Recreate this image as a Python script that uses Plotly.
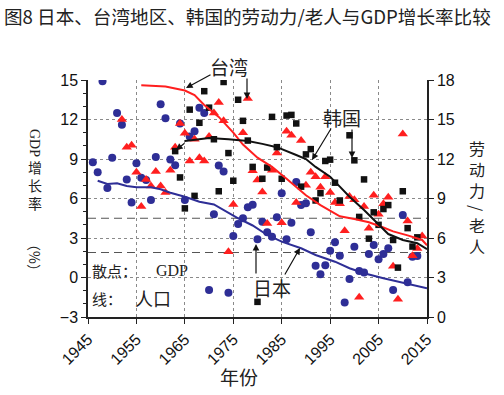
import plotly.graph_objects as go

# ---------------- data ----------------
jp_years = list(range(1946, 2014))
jp_gdp = [8.75, 8.0, 14.9, 6.8, 9.1, 12.5, 11.6, 7.45, 5.7, 8.67,
          7.58, 7.4, 5.88, 9.15, 13.15, 12.1, 8.97, 8.52, 11.7, 5.88,
          10.7, 11.1, 12.9, 12.5, -0.95, 4.8, 8.5, 8.05, -1.15, 3.15,
          4.06, 4.5, 5.33, 5.52, 2.9, 4.24, 3.43, 3.1, 4.57, 6.39,
          2.9, 4.16, 7.25, 5.5, 5.63, 3.43, 0.9, 0.24, 0.93, 2.03,
          2.67, 1.65, -1.9, -0.12, 2.34, 0.5, 0.38, 1.78, 2.47, 1.38,
          1.78, 2.22, -0.95, None, 4.74, -0.37, 1.58, 1.63]

tw_years = list(range(1952, 2015))
tw_gdp = [12.0, 9.9, 10.05, 8.0, 5.4, 7.45, 6.95, 8.05, 6.95, 6.45,
          8.15, 9.9, 11.7, 10.95, 8.85, 10.5, 9.1, 8.85, 10.7, 12.5,
          13.3, 11.9, 1.95, 5.55, None, 11.0, 13.6, 8.1, 7.4, 6.5,
          4.1, 8.15, 9.45, 4.15, 11.1, 10.8, 5.7, 10.4, 7.0, 8.0,
          7.65, 6.85, 7.65, 6.45, 5.7, 5.6, 3.55, 6.15, 5.9, -1.5,
          5.4, 3.75, 6.25, 4.8, 5.6, 6.1, 0.85, -1.65, 10.9, 4.3,
          1.65, 2.2, 3.15]

kr_years = list(range(1963, 2014))
kr_gdp = [9.6, 7.6, 5.25, 12.75, 6.2, 11.75, 14.15, 12.9, 10.5, 6.55,
          14.85, 9.45, 7.35, 13.5, 11.9, 10.4, 8.4, -1.85, 7.5, 8.35,
          12.2, 9.9, 7.5, 12.3, 12.35, 11.7, 6.9, 9.35, 9.75, 5.85,
          6.4, 8.85, 8.95, 7.2, 5.85, None, 10.8, 8.9, 4.6, 7.45,
          2.95, 4.95, 4.0, 5.2, 5.5, 2.85, 0.75, 6.55, 3.75, 2.35,
          3.05]

# labour force / elderly ratio (right axis)
jp_ratio_years = [1947, 1949, 1951, 1953, 1955, 1958, 1960, 1962, 1965, 1968,
                  1971, 1973, 1976, 1979, 1982, 1985, 1989, 1992, 1996, 1999,
                  2002, 2006, 2009, 2013, 2015]
jp_ratio = [10.35, 10.1, 10.15, 9.95, 9.85, 9.85, 9.7, 9.44, 9.13, 8.75,
            8.55, 8.12, 7.5, 6.95, 6.23, 5.72, 5.22, 4.71, 4.2, 3.7,
            3.32, 2.94, 2.68, 2.35, 2.18]

tw_ratio_years = [1956, 1961, 1965, 1967, 1969, 1972, 1975, 1977, 1980, 1983,
                  1986, 1990, 1993, 1997, 2000, 2003, 2006, 2008, 2011, 2014, 2015]
tw_ratio = [17.6, 17.5, 17.2, 16.85, 16.1, 15.2, 14.0, 13.1, 12.1, 11.4,
            10.5, 9.25, 8.5, 7.65, 7.45, 7.2, 6.8, 6.5, 6.2, 5.85, 5.45]

kr_ratio_years = [1965, 1967, 1970, 1974, 1978, 1981, 1984, 1988, 1990, 1992,
                  1995, 1997, 1999, 2002, 2005, 2007, 2010, 2013, 2015]
kr_ratio = [13.36, 13.44, 13.6, 13.5, 13.36, 13.15, 12.9, 12.3, 12.0, 11.4,
            10.65, 9.9, 9.13, 8.12, 7.0, 6.3, 5.85, 5.6, 5.15]

mean_lines = [4.5, 1.9]

x_ticks = [1945, 1955, 1965, 1975, 1985, 1995, 2005, 2015]
y_ticks = [-3, 0, 3, 6, 9, 12, 15]
y2_ticks = [0, 3, 6, 9, 12, 15, 18]

# ---------------- style ----------------
BLUE = "#2e2e96"
RED = "#ff1f1f"
BLACK = "#111111"
CJK = "Noto Sans CJK SC"
NUM = "Liberation Sans"
SERIF = "Liberation Serif"
TXT = "#222222"

W, H = 504, 395
L, R, T, B = 88, 427, 80, 317


def px(xp):
    return (xp - L) / (R - L)


def py(yp):
    return (B - yp) / (B - T)


fig = go.Figure()

for yv in mean_lines:
    fig.add_trace(go.Scatter(x=[x_ticks[0], x_ticks[-1]], y=[yv, yv], mode="lines",
                             line=dict(color="#555555", width=1.2, dash="8px,5px"),
                             hoverinfo="skip", showlegend=False))

fig.add_trace(go.Scatter(x=jp_years, y=jp_gdp, mode="markers",
                         marker=dict(symbol="circle", size=8, color=BLUE),
                         showlegend=False))
fig.add_trace(go.Scatter(x=tw_years, y=tw_gdp, mode="markers",
                         marker=dict(symbol="triangle-up", size=9, color=RED),
                         showlegend=False))
fig.add_trace(go.Scatter(x=kr_years, y=kr_gdp, mode="markers",
                         marker=dict(symbol="square", size=6.5, color=BLACK),
                         showlegend=False))

fig.add_trace(go.Scatter(x=jp_ratio_years, y=jp_ratio, mode="lines", yaxis="y2",
                         line=dict(color=BLUE, width=2), showlegend=False))
fig.add_trace(go.Scatter(x=tw_ratio_years, y=tw_ratio, mode="lines", yaxis="y2",
                         line=dict(color=RED, width=2), showlegend=False))
fig.add_trace(go.Scatter(x=kr_ratio_years, y=kr_ratio, mode="lines", yaxis="y2",
                         line=dict(color=BLACK, width=2), showlegend=False))

grid = dict(showgrid=True, gridcolor="#8a8a8a", griddash="dot", gridwidth=1)

fig.update_layout(
    width=W, height=H,
    margin=dict(l=L, r=W - R, t=T, b=H - B, autoexpand=False),
    paper_bgcolor="white", plot_bgcolor="white",
    xaxis=dict(range=[1945, 2015], tickvals=x_ticks, tickangle=-45,
               tickfont=dict(family=NUM, size=16, color="#111"),
               showline=True, linecolor="#222", linewidth=1.5,
               ticks="outside", ticklen=5, tickcolor="#222",
               zeroline=False, **grid),
    yaxis=dict(range=[-3, 15], tickvals=y_ticks,
               tickfont=dict(family=NUM, size=16, color="#111"),
               showline=True, linecolor="#222", linewidth=1.5,
               ticks="outside", ticklen=5, tickcolor="#222",
               minor=dict(ticks="outside", ticklen=3, dtick=1, tickcolor="#222", showgrid=False),
               zeroline=False, **grid),
    yaxis2=dict(range=[0, 18], tickvals=y2_ticks, overlaying="y", side="right",
                tickfont=dict(family=NUM, size=16, color="#111"),
                showline=True, linecolor="#222", linewidth=1.5,
                ticks="outside", ticklen=5, tickcolor="#222",
                showgrid=False, zeroline=False),
)

ann = []


def label(text, cx, cy, size, family=CJK, angle=0, anchor="center"):
    ann.append(dict(text=text, textangle=angle, xref="paper", yref="paper",
                    x=px(cx), y=py(cy), xanchor=anchor, yanchor="middle",
                    borderpad=0, showarrow=False,
                    font=dict(family=family, size=size, color=TXT)))


# title
label("图8 日本、台湾地区、韩国的劳动力/老人与GDP增长率比较", 3, 15, 18.6, anchor="left")
# left axis title (vertical writing)
label("GDP", 35, 143, 14, family=SERIF, angle=90)
label("增<br>长<br>率", 35, 185, 14)
label("（%）", 35, 258, 14, angle=90)
# right axis title
label("劳<br>动<br>力", 477, 169, 16)
label("/", 477, 208, 16, angle=90)
label("老<br>人", 477, 235, 16)
# x axis title
label("年份", 239, 376, 19)
# notes
label("散点：", 91, 270, 15, anchor="left")
label("GDP", 155, 270, 16, family=SERIF, anchor="left")
label("线：", 91, 298, 15, anchor="left")
label("人口", 134, 298, 18, anchor="left")
# series labels
label("台湾", 229, 66, 19)
label("韩国", 342, 117, 19)
label("日本", 272, 287, 19)

# arrows (head position, tail offset in pixels)
arrows = [((186, 88), (26, -14)),   # 台湾 -> red line
          ((247, 99), (0, -22)),    # 台湾 -> triangle
          ((312, 160), (20, -33)),  # 韩国 -> black line
          ((352, 158), (0, -30)),   # 韩国 -> square
          ((256, 244), (0, 31)),    # 日本 -> circle
          ((300, 248), (-16, 28)),  # 日本 -> blue line
          ((176, 150), (10, -8))]   # start of Korea line
for (hx, hy), (ax, ay) in arrows:
    ann.append(dict(text="", xref="paper", yref="paper", x=px(hx), y=py(hy),
                    ax=ax, ay=ay, showarrow=True, arrowhead=2, arrowsize=1.1,
                    arrowwidth=1.2, arrowcolor="#111"))

fig.update_layout(annotations=ann)
fig.write_html("out.html", config={"displayModeBar": False},
               post_script="document.body.style.margin='0px';document.body.style.overflow='hidden';")
